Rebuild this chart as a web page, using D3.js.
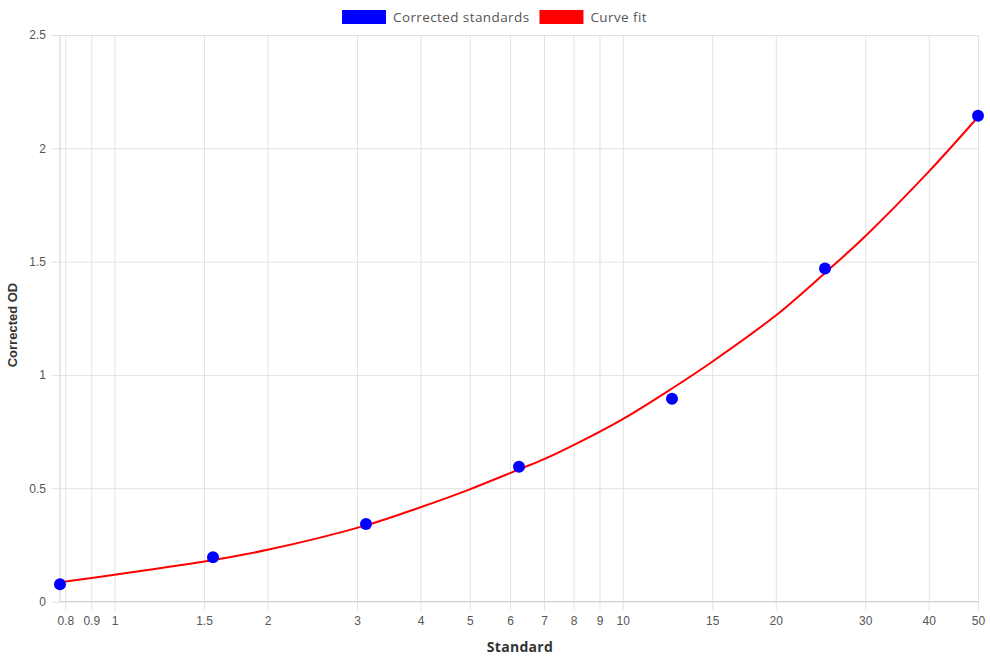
<!DOCTYPE html>
<html>
<head>
<meta charset="utf-8">
<script src="https://cdn.jsdelivr.net/npm/d3@7"></script>
<style>
  body { margin: 0; background: #fff; }
  svg { display: block; }
</style>
</head>
<body>
<svg width="990" height="660"></svg>
<script>
// standards (dilution series) and measured corrected OD
const standards = [0.78125, 1.5625, 3.125, 6.25, 12.5, 25, 50];
const correctedOD = [0.076, 0.195, 0.342, 0.595, 0.895, 1.470, 2.144];

// curve fit
const fitX = [0.78125, 1, 1.5625, 2, 3.125, 4, 5, 6.25, 7, 8, 10, 12.5, 15, 20, 25, 30, 40, 50];
const fitY = [0.085, 0.118, 0.183, 0.228, 0.336, 0.416, 0.495, 0.583, 0.628, 0.69, 0.805, 0.94, 1.058, 1.262, 1.45, 1.612, 1.897, 2.138];

const xTicks = [0.8, 0.9, 1, 1.5, 2, 3, 4, 5, 6, 7, 8, 9, 10, 15, 20, 30, 40, 50];
const yTicks = [0, 0.5, 1, 1.5, 2, 2.5];

const legendItems = [
  {label: 'Corrected standards', color: '#0000ff'},
  {label: 'Curve fit', color: '#ff0000'}
];

const plot = {left: 60, right: 978, top: 35, bottom: 601.5};
const labelFont = '"Liberation Sans", Arial, sans-serif';
const titleFont = '"Open Sans", sans-serif';

const svg = d3.select('svg');

const x = d3.scaleLog().domain([0.78125, 50]).range([plot.left, plot.right]);
const y = d3.scaleLinear().domain([0, 2.5]).range([plot.bottom, plot.top]);

// grid
svg.append('g')
  .attr('transform', `translate(0,${plot.bottom})`)
  .call(d3.axisBottom(x).tickValues(xTicks).tickSize(-(plot.bottom - plot.top)).tickFormat(''))
  .call(g => g.select('.domain').remove())
  .call(g => g.selectAll('line').attr('stroke', '#e2e2e2'));

svg.append('g')
  .attr('transform', `translate(${plot.right},0)`)
  .call(d3.axisLeft(y).tickValues(yTicks).tickSize(plot.right - plot.left).tickFormat(''))
  .call(g => g.select('.domain').remove())
  .call(g => g.selectAll('line').attr('stroke', '#e2e2e2'));

// x axis
const xAxis = svg.append('g')
  .attr('transform', `translate(0,${plot.bottom})`)
  .call(d3.axisBottom(x).tickValues(xTicks).tickSize(9).tickPadding(6).tickFormat(d3.format('')));
xAxis.select('.domain').attr('stroke', '#cfcfcf').attr('d', `M${plot.left},0H${plot.right}`);
xAxis.selectAll('line').attr('stroke', '#e2e2e2');
xAxis.selectAll('text').style('font-family', labelFont).style('font-size', '12px').attr('fill', '#555');

// y axis
const yAxis = svg.append('g')
  .attr('transform', `translate(${plot.left},0)`)
  .call(d3.axisLeft(y).tickValues(yTicks).tickSize(9).tickPadding(5).tickFormat(d3.format('')));
yAxis.select('.domain').attr('stroke', '#cfcfcf').attr('d', `M0,${plot.top}V${plot.bottom}`);
yAxis.selectAll('line').attr('stroke', '#e2e2e2');
yAxis.selectAll('text').style('font-family', labelFont).style('font-size', '12px').attr('fill', '#555');

// axis titles
svg.append('text')
  .attr('x', 520)
  .attr('y', 651.5)
  .attr('text-anchor', 'middle')
  .style('font-family', titleFont)
  .style('font-size', '14px')
  .style('font-weight', 'bold')
  .style('letter-spacing', '0.3px')
  .attr('fill', '#333')
  .text('Standard');

svg.append('text')
  .attr('transform', `translate(17,325) rotate(-90)`)
  .attr('text-anchor', 'middle')
  .style('font-family', labelFont)
  .style('font-size', '13px')
  .style('font-weight', 'bold')
  .attr('fill', '#333')
  .text('Corrected OD');

// curve fit
const fit = fitX.map((v, i) => ({x: v, y: fitY[i]}));
svg.append('path')
  .datum(fit)
  .attr('fill', 'none')
  .attr('stroke', '#ff0000')
  .attr('stroke-width', 2)
  .attr('d', d3.line().x(d => x(d.x)).y(d => y(d.y)).curve(d3.curveCatmullRom.alpha(0.5)));

// standards
svg.append('g')
  .selectAll('circle')
  .data(standards.map((v, i) => ({x: v, y: correctedOD[i]})))
  .join('circle')
  .attr('cx', d => x(d.x))
  .attr('cy', d => y(d.y))
  .attr('r', 6)
  .attr('fill', '#0000ff');

// legend
const legend = svg.append('g');
let lx = 342;
legendItems.forEach(item => {
  legend.append('rect')
    .attr('x', lx).attr('y', 10)
    .attr('width', 44).attr('height', 14)
    .attr('fill', item.color);
  const t = legend.append('text')
    .attr('x', lx + 51).attr('y', 21.5)
    .style('font-family', titleFont)
    .style('font-size', '13.5px')
    .style('letter-spacing', '0.4px')
    .attr('fill', '#555')
    .text(item.label);
  lx += 51 + t.node().getComputedTextLength() + 10;
});
</script>
</body>
</html>
